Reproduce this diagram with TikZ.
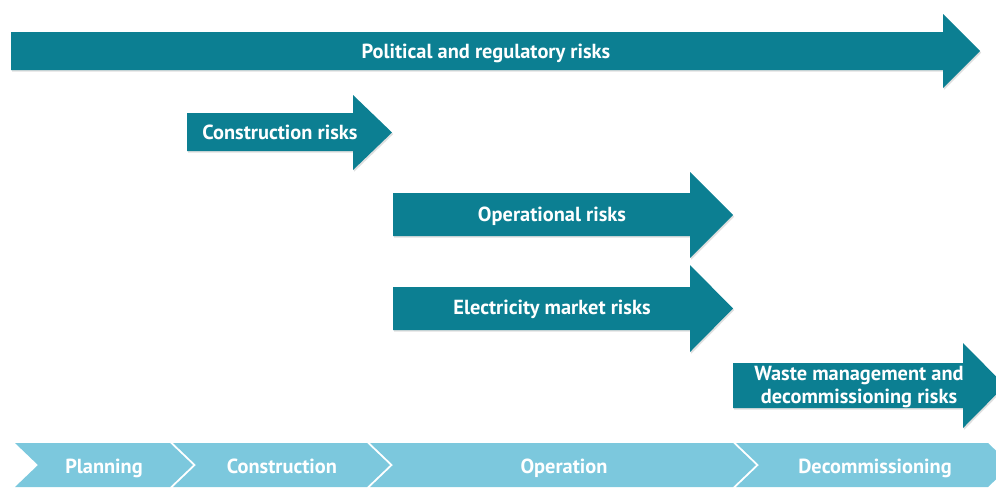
\documentclass[tikz,border=0pt]{standalone}
\usepackage{fontspec}
\setmainfont{PT Sans}
\usetikzlibrary{shadows}
\definecolor{riskteal}{RGB}{12,127,146}
\definecolor{phaseblue}{RGB}{124,200,221}
\tikzset{
  riskarrow/.style={fill=riskteal,draw=none,drop shadow={shadow xshift=0.7pt,shadow yshift=-0.9pt,opacity=0.25}},
  phase/.style={fill=phaseblue,draw=none},
  risklabel/.style={text=white,font=\fontsize{11.6}{12.6}\selectfont\bfseries,align=center,inner sep=0pt,anchor=base},
  phaselabel/.style={risklabel}
}

\begin{document}
\begin{tikzpicture}[x=0.02cm,y=-0.02cm]
  \useasboundingbox (0,0) rectangle (996,488);
  % risk arrows
  \fill[riskarrow] (11,32) -- (943,32) -- (943,14) -- (980,51) -- (943,88) -- (943,70) -- (11,70) -- cycle;
  \node[risklabel] (political) at (486,58) {Political and regulatory risks};
  \fill[riskarrow] (187,113) -- (353,113) -- (353,95) -- (392,132.5) -- (353,170) -- (353,151) -- (187,151) -- cycle;
  \node[risklabel] (construction) at (280,139) {Construction risks};
  \fill[riskarrow] (393,193) -- (690,193) -- (690,172) -- (733,215) -- (690,258) -- (690,236) -- (393,236) -- cycle;
  \node[risklabel] (operational) at (552,221) {Operational risks};
  \fill[riskarrow] (393,287) -- (690,287) -- (690,265) -- (733,308.5) -- (690,352) -- (690,330) -- (393,330) -- cycle;
  \node[risklabel] (market) at (552,314) {Electricity market risks};
  \fill[riskarrow] (733,363) -- (963,363) -- (963,343) -- (1005,385.5) -- (963,428) -- (963,408) -- (733,408) -- cycle;
  \node[risklabel] (waste) at (859,403) {Waste management and\\decommissioning risks};
  % project phases
  \foreach \xa/\xb/\xc/\name/\txt in {15/170/104/planning/Planning,173/367/282/constr/Construction,370/733/564/operation/Operation,736/988/875/decomm/Decommissioning}{
    \fill[phase] (\xa,443) -- (\xb,443) -- (\xb+23,465) -- (\xb,487) -- (\xa,487) -- (\xa+23,465) -- cycle;
    \node[phaselabel] (\name) at (\xc,473) {\txt};
  }
\end{tikzpicture}
\end{document}
